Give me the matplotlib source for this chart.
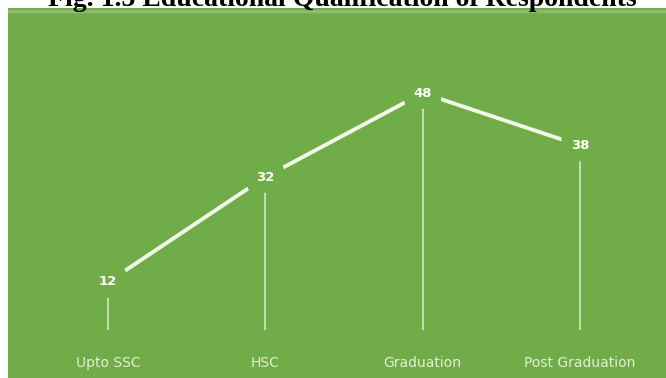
import matplotlib
matplotlib.use("Agg")
import matplotlib.pyplot as plt

# respondents by education level
levels = ["Upto SSC", "HSC", "Graduation", "Post Graduation"]
respondents = [12, 32, 48, 38]

green = "#70ac47"
pale = "#f2f9ea"

fig = plt.figure(figsize=(6.66, 3.78), dpi=100)
fig.patch.set_facecolor("white")

# green panel holding the chart
ax = fig.add_axes([8 / 666, 0, 658 / 666, 370 / 378])
ax.set_facecolor(green)
ax.set_xlim(-0.636, 3.547)
ax.set_ylim(-6.29, 64.2)
for s in ax.spines.values():
    s.set_visible(False)
ax.set_xticks([])
ax.set_yticks([])

x = list(range(len(levels)))

# thin drop lines under each point
ax.vlines(x, 2.9, respondents, color="#d9efc6", lw=1.3, alpha=0.85, zorder=2)

# main line
ax.plot(x, respondents, color=pale, lw=2.8, solid_capstyle="butt", zorder=3)

# value labels sit on a green patch so the line breaks around them
for xi, v in zip(x, respondents):
    ax.text(xi, v, str(v), ha="center", va="center", color="white",
            fontsize=9.5, fontweight="bold", zorder=4,
            bbox=dict(boxstyle="round,pad=0.7", fc=green, ec="none"))

for xi, lab in zip(x, levels):
    ax.text(xi, -3.4, lab, ha="center", va="center", color="#e2f1d6",
            fontsize=10, zorder=4)

# faint lighter strip along the top edge
ax.axhline(63.7, color="#8fba74", lw=2.5, zorder=1)

fig.text(0.514, 1 - 5.5 / 378, "Fig. 1.5 Educational Qualification of Respondents",
         ha="center", va="baseline", fontsize=20, fontweight="bold",
         family="Liberation Serif", color="black")

fig.savefig("out.png", dpi=100, facecolor=fig.get_facecolor())
